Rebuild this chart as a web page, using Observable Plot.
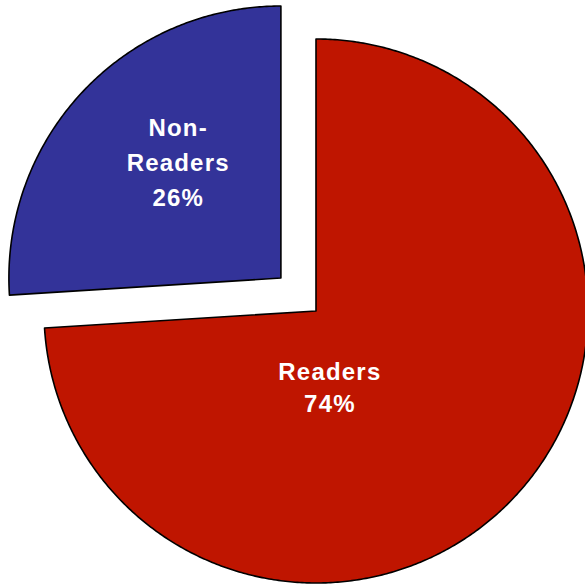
<!DOCTYPE html>
<html>
<head>
<meta charset="utf-8">
<script src="https://cdn.jsdelivr.net/npm/d3@7"></script>
<script src="https://cdn.jsdelivr.net/npm/@observablehq/plot@0.6"></script>
<style>
  html, body { margin: 0; padding: 0; background: #fff; }
  #chart svg { display: block; }
</style>
</head>
<body>
<div id="chart"></div>
<script>
// ---- data ----
const categories = ["Readers", "Non-Readers"];
const shares = [74, 26];
const labelTexts = ["Readers\n74%", "Non-\nReaders\n26%"];

// ---- styling / layout ----
const colors = ["#BF1500", "#333399"];
const explode = [0, 0.177];               // fraction of radius
const labelPolar = [[169.5, 0.2804], [318.96, 0.5751]]; // [angle deg clockwise from top, radius fraction]
const lineHeights = [1.31, 1.46];

const arcs = d3.pie().sort(null).value(d => d)(shares);

const pts = [];
const labelRows = [];
arcs.forEach((a, i) => {
  const mid = (a.startAngle + a.endAngle) / 2;
  const cx = explode[i] * Math.sin(mid);
  const cy = explode[i] * Math.cos(mid);
  pts.push({cat: categories[i], x: cx, y: cy});
  const n = Math.max(2, Math.ceil((a.endAngle - a.startAngle) / (Math.PI / 360)));
  for (let k = 0; k <= n; k++) {
    const t = a.startAngle + (a.endAngle - a.startAngle) * k / n;
    pts.push({cat: categories[i], x: cx + Math.sin(t), y: cy + Math.cos(t)});
  }
  const [deg, r] = labelPolar[i];
  const la = deg * Math.PI / 180;
  labelRows.push({cat: categories[i], text: labelTexts[i], x: cx + r * Math.sin(la), y: cy + r * Math.cos(la), lh: lineHeights[i]});
});

const chart = Plot.plot({
  width: 585,
  height: 584,
  margin: 0,
  x: {domain: [-1.1599, 0.9908], axis: null},
  y: {domain: [-1.0055, 1.1415], axis: null},
  color: {domain: categories, range: colors},
  style: {fontFamily: "Liberation Sans, Arial, sans-serif", letterSpacing: "1.2px", background: "#fff"},
  marks: [
    Plot.line(pts, {x: "x", y: "y", z: "cat", fill: "cat", stroke: "black", strokeWidth: 1.6, curve: "linear-closed"}),
    ...labelRows.map(d => Plot.text([d], {x: "x", y: "y", text: "text", fill: "white", fontSize: 24, fontWeight: "bold", lineHeight: d.lh}))
  ]
});
document.getElementById("chart").appendChild(chart);
</script>
</body>
</html>
